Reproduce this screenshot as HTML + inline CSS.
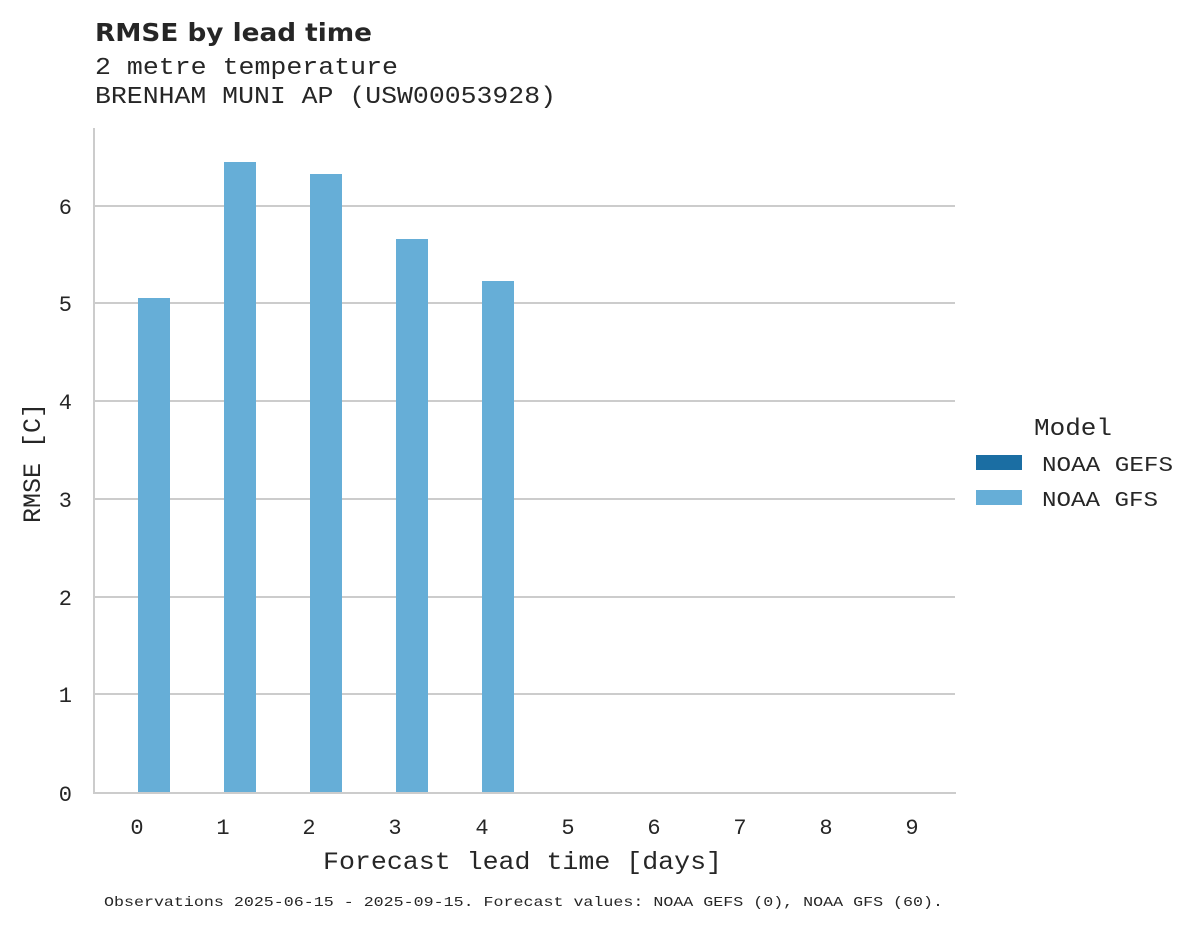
<!DOCTYPE html>
<html><head><meta charset="utf-8"><style>
body{margin:0;background:#fff;}
svg text{fill:#262626;}
</style></head><body>
<svg width="1195" height="928" xmlns="http://www.w3.org/2000/svg">
<rect width="1195" height="928" fill="#fff"/>
<text x="95" y="41" font-family="DejaVu Sans, sans-serif" font-weight="bold" font-size="25" textLength="277" lengthAdjust="spacingAndGlyphs">RMSE by lead time</text>
<text x="95" y="74" font-family="Liberation Mono, monospace" font-size="24" textLength="303" lengthAdjust="spacingAndGlyphs">2 metre temperature</text>
<text x="95" y="103" font-family="Liberation Mono, monospace" font-size="24" textLength="461" lengthAdjust="spacingAndGlyphs">BRENHAM MUNI AP (USW00053928)</text>
<g stroke="#cccccc" stroke-width="2">
<line x1="94" y1="694" x2="955" y2="694"/>
<line x1="94" y1="597" x2="955" y2="597"/>
<line x1="94" y1="499" x2="955" y2="499"/>
<line x1="94" y1="401" x2="955" y2="401"/>
<line x1="94" y1="303" x2="955" y2="303"/>
<line x1="94" y1="206" x2="955" y2="206"/>
</g>
<g fill="#66aed7">
<rect x="138" y="298" width="32" height="495"/>
<rect x="224" y="162" width="32" height="631"/>
<rect x="310" y="174" width="32" height="619"/>
<rect x="396" y="239" width="32" height="554"/>
<rect x="482" y="281" width="32" height="512"/>
</g>
<line x1="94" y1="128" x2="94" y2="794" stroke="#cccccc" stroke-width="2"/>
<line x1="93" y1="793" x2="956" y2="793" stroke="#cccccc" stroke-width="2"/>
<g font-family="Liberation Mono, monospace" font-size="22" text-anchor="end">
<text x="72" y="801">0</text><text x="72" y="702">1</text><text x="72" y="605">2</text>
<text x="72" y="507">3</text><text x="72" y="409">4</text><text x="72" y="311">5</text><text x="72" y="214">6</text>
</g>
<g font-family="Liberation Mono, monospace" font-size="22" text-anchor="middle">
<text x="137" y="834">0</text><text x="223" y="834">1</text><text x="309" y="834">2</text><text x="395" y="834">3</text><text x="482" y="834">4</text>
<text x="568" y="834">5</text><text x="654" y="834">6</text><text x="740" y="834">7</text><text x="826" y="834">8</text><text x="912" y="834">9</text>
</g>
<text x="323" y="869" font-family="Liberation Mono, monospace" font-size="25" textLength="399" lengthAdjust="spacingAndGlyphs">Forecast lead time [days]</text>
<text transform="translate(40,463) rotate(-90)" font-family="Liberation Mono, monospace" font-size="25" text-anchor="middle">RMSE [C]</text>
<text x="1034" y="435" font-family="Liberation Mono, monospace" font-size="24" textLength="78" lengthAdjust="spacingAndGlyphs">Model</text>
<rect x="976" y="455" width="46" height="15" fill="#1b6ea3"/>
<rect x="976" y="490" width="46" height="15" fill="#66aed7"/>
<text x="1042" y="471" font-family="Liberation Mono, monospace" font-size="21" textLength="131" lengthAdjust="spacingAndGlyphs">NOAA GEFS</text>
<text x="1042" y="506" font-family="Liberation Mono, monospace" font-size="21" textLength="116" lengthAdjust="spacingAndGlyphs">NOAA GFS</text>
<text x="104" y="906" font-family="Liberation Mono, monospace" font-size="14" textLength="839" lengthAdjust="spacingAndGlyphs">Observations 2025-06-15 - 2025-09-15. Forecast values: NOAA GEFS (0), NOAA GFS (60).</text>
</svg>
</body></html>
